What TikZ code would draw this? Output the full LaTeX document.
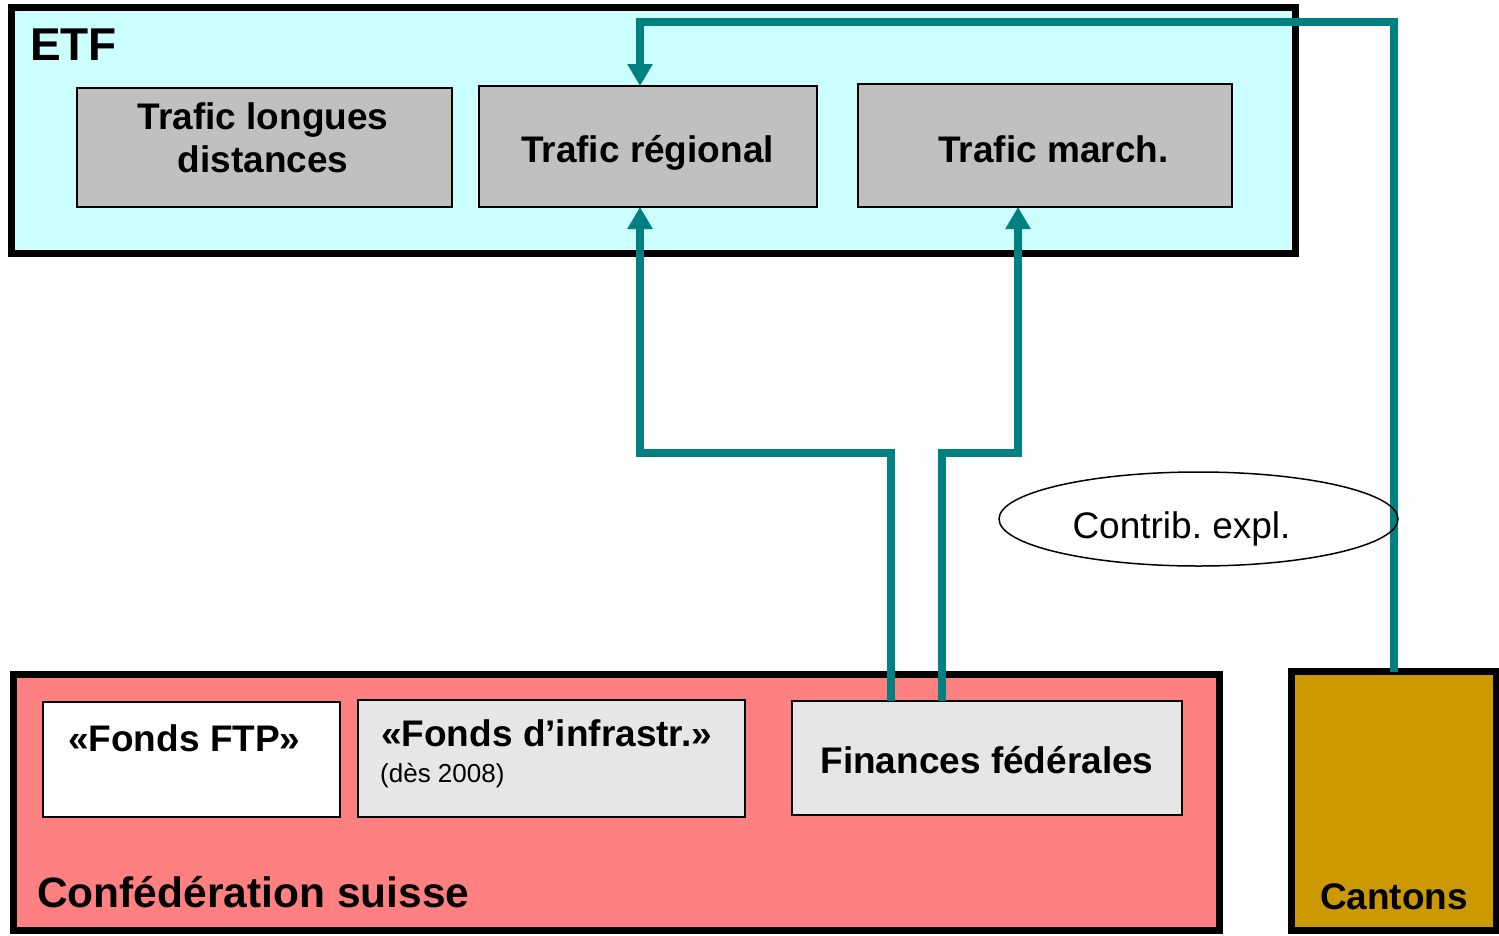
\documentclass[tikz,border=0pt]{standalone}
\usepackage{fontspec}
\setmainfont{Liberation Sans}
\frenchspacing
\usetikzlibrary{arrows.meta,shapes.geometric}
\definecolor{etfcol}{RGB}{204,255,255}
\definecolor{boxgray}{RGB}{192,192,192}
\definecolor{palegray}{RGB}{230,230,230}
\definecolor{confcol}{RGB}{255,128,128}
\definecolor{cantcol}{RGB}{204,153,0}
\definecolor{flowcol}{RGB}{0,128,128}
\begin{document}
\begin{tikzpicture}[x=1pt,y=-1pt,
  frame/.style={draw=black,line width=7pt,inner sep=0pt,outer sep=0pt},
  inbox/.style={draw=black,line width=1.5pt,inner sep=0pt,outer sep=0pt},
  flow/.style={draw=flowcol,line width=8pt,line join=miter,-{Triangle[width=24pt,length=22pt]}},
  bigtxt/.style={font=\fontsize{37}{42.5}\selectfont\bfseries,inner sep=0pt},
  regtxt/.style={font=\fontsize{37}{42.5}\selectfont,inner sep=0pt},
  smalltxt/.style={font=\fontsize{26}{30}\selectfont,inner sep=0pt},
  titletxt/.style={font=\fontsize{46}{52}\selectfont\bfseries,inner sep=0pt},
  conftxt/.style={font=\fontsize{42.5}{48}\selectfont\bfseries,inner sep=0pt}
]
\useasboundingbox (0,0) rectangle (1499,935);
\fill[white] (0,0) rectangle (1499,935);

% ETF frame
\node[frame,fill=etfcol,minimum width=1284pt,minimum height=246pt] (etf) at (653.5,130) {};
\node[titletxt,anchor=base west] (etflbl) at (30,60) {ETF};

\node[inbox,fill=boxgray,minimum width=375pt,minimum height=119pt] (ld) at (264.5,147.5) {};
\node[bigtxt,align=center,anchor=base] (ldlbl) at (263,172) {Trafic longues\\distances};
\node[inbox,fill=boxgray,minimum width=338pt,minimum height=121pt] (reg) at (648,146.5) {};
\node[bigtxt,anchor=base] (reglbl) at (647.5,162) {Trafic régional};
\node[inbox,fill=boxgray,minimum width=374pt,minimum height=123pt] (mar) at (1045,145.5) {};
\node[bigtxt,anchor=base] (marlbl) at (1053.5,162) {Trafic march.};

% Confederation frame
\node[frame,fill=confcol,minimum width=1206pt,minimum height=256pt] (conf) at (616,802) {};
\node[conftxt,anchor=base west] (conflbl) at (37,907) {Confédération suisse};

\node[inbox,fill=white,minimum width=297pt,minimum height=115pt] (ftp) at (191.5,759.5) {};
\node[bigtxt,anchor=base west] (ftplbl) at (68,751) {«Fonds FTP»};
\node[inbox,fill=palegray,minimum width=387pt,minimum height=117pt] (inf) at (551.5,758.5) {};
\node[bigtxt,anchor=base west] (inflbl) at (381,746) {«Fonds d’infrastr.»};
\node[smalltxt,anchor=base west] (infsub) at (380,782) {(dès 2008)};
\node[inbox,fill=palegray,minimum width=390pt,minimum height=114pt] (ff) at (987,758) {};
\node[bigtxt,anchor=base] (fflbl) at (987,773) {Finances fédérales};

% Cantons
\node[frame,fill=cantcol,minimum width=205pt,minimum height=258.5pt] (cant) at (1393.5,800.75) {};
\node[bigtxt,anchor=base] (cantlbl) at (1394,909) {Cantons};

% flows
\coordinate (x1) at (891,0);
\coordinate (x2) at (942,0);
\coordinate (j1) at (640,453);
\coordinate (j2) at (1018,453);
\coordinate (top) at (640,22);
\draw[flow] (ff.north -| x1) |- (j1) -- (j1 |- reg.south);
\draw[flow] (ff.north -| x2) |- (j2) -- (j2 |- mar.south);
\draw[flow] (cant.north) |- (top) -- (top |- reg.north);

% ellipse
\node[draw=black,line width=1.5pt,ellipse,minimum width=399pt,minimum height=94pt,inner sep=0pt] (ce) at (1198.5,519) {};
\node[regtxt,anchor=base] (celbl) at (1181.5,538) {Contrib. expl.};
\end{tikzpicture}
\end{document}
